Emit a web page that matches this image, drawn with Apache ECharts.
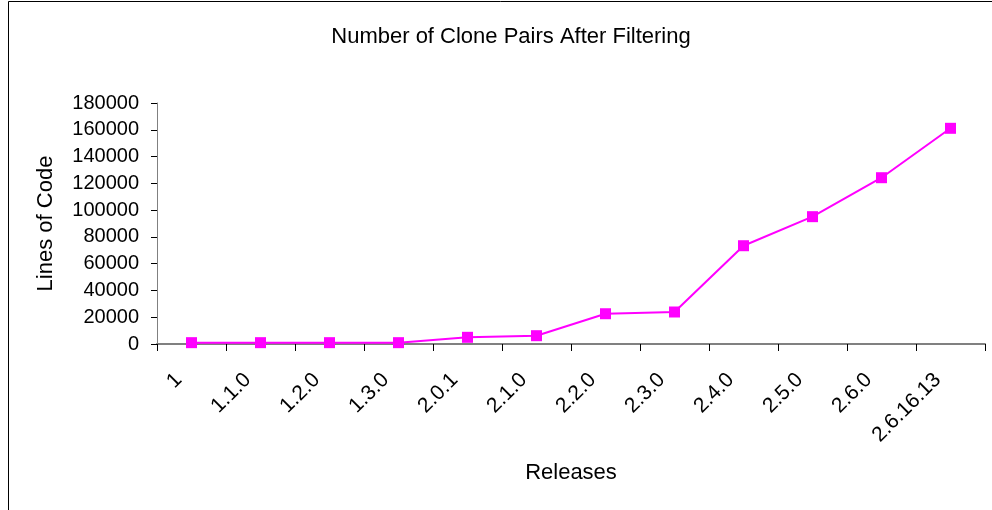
<!DOCTYPE html>
<html>
<head>
<meta charset="utf-8">
<script src="https://cdn.jsdelivr.net/npm/echarts@6/dist/echarts.min.js"></script>
<style>
  html, body { margin: 0; padding: 0; background: #fff; }
  #chart { width: 992px; height: 510px; }
</style>
</head>
<body>
<div id="chart"></div>
<script>
// Linux releases and the clone pairs remaining after filtering
const releases = ['1', '1.1.0', '1.2.0', '1.3.0', '2.0.1', '2.1.0', '2.2.0', '2.3.0', '2.4.0', '2.5.0', '2.6.0', '2.6.16.13'];
const clonePairs = [1000, 1000, 1000, 1000, 5000, 6200, 22600, 23900, 73400, 95100, 124200, 161100];
const yTicks = { min: 0, max: 180000, interval: 20000 };

const font = 'Liberation Sans, Arial, sans-serif';
const axisGray = '#808080';

const chart = echarts.init(document.getElementById('chart'), null, { renderer: 'canvas' });
chart.setOption({
  backgroundColor: '#ffffff',
  animation: false,
  title: {
    text: 'Number of Clone Pairs After Filtering',
    left: 506,
    textAlign: 'center',
    top: 21,
    textStyle: { fontFamily: font, fontSize: 22, fontWeight: 'normal', color: '#000' }
  },
  graphic: [{
    type: 'rect',
    shape: { x: 8.5, y: 1.5, width: 1000, height: 600 },
    style: { fill: 'none', stroke: '#000', lineWidth: 1 },
    silent: true
  }],
  grid: { left: 157, right: 7, top: 103, bottom: 166, containLabel: false },
  xAxis: {
    type: 'category',
    data: releases,
    boundaryGap: true,
    name: 'Releases',
    nameLocation: 'middle',
    nameGap: 118,
    nameTextStyle: { fontFamily: font, fontSize: 22, color: '#000' },
    axisLine: { lineStyle: { color: axisGray, width: 2 } },
    axisTick: { show: true, alignWithLabel: false, length: 7, lineStyle: { color: '#000' } },
    axisLabel: {
      rotate: 45, margin: 20, padding: [0, 18, 0, 0],
      fontFamily: font, fontSize: 21, color: '#000', interval: 0
    },
    splitLine: { show: false }
  },
  yAxis: {
    type: 'value',
    min: yTicks.min,
    max: yTicks.max,
    interval: yTicks.interval,
    name: 'Lines of Code',
    nameLocation: 'middle',
    nameGap: 100,
    nameTextStyle: { fontFamily: font, fontSize: 22, color: '#000' },
    axisLine: { show: true, lineStyle: { color: axisGray, width: 1 } },
    axisTick: { show: true, length: 6, lineStyle: { color: '#000' } },
    axisLabel: {
      margin: 18, fontFamily: font, fontSize: 20, color: '#000',
      formatter: v => String(v)
    },
    splitLine: { show: false }
  },
  series: [{
    type: 'line',
    data: clonePairs,
    symbol: 'rect',
    symbolSize: 11,
    lineStyle: { color: '#ff00ff', width: 2 },
    itemStyle: { color: '#ff00ff' }
  }]
});
</script>
</body>
</html>
